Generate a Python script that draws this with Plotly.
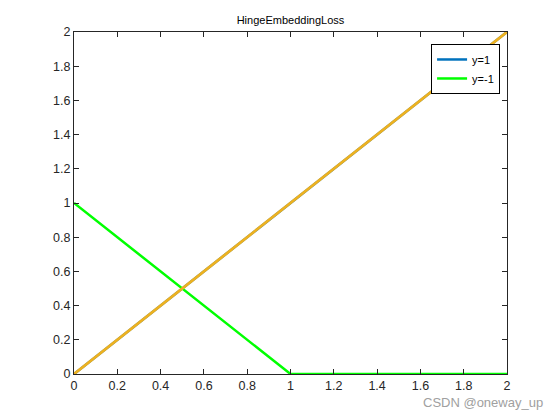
import plotly.graph_objects as go

x_vals = [0, 1, 2]
loss_pos = [0, 1, 2]        # y=1
loss_neg = [1, 0, 0]        # y=-1
loss_extra = [0, 1, 2]      # overlaid orange line
tick_vals = [0, 0.2, 0.4, 0.6, 0.8, 1, 1.2, 1.4, 1.6, 1.8, 2]
tick_text = ["0", "0.2", "0.4", "0.6", "0.8", "1", "1.2", "1.4", "1.6", "1.8", "2"]

fig = go.Figure()
fig.add_trace(go.Scatter(x=x_vals, y=loss_pos, mode="lines", name="y=1",
                         line=dict(color="#0072BD", width=2.5)))
fig.add_trace(go.Scatter(x=x_vals, y=loss_neg, mode="lines", name="y=-1",
                         line=dict(color="#00FF00", width=2.5)))
fig.add_trace(go.Scatter(x=x_vals, y=loss_extra, mode="lines", showlegend=False,
                         line=dict(color="#EDB120", width=2.8)))

axis_common = dict(
    tickmode="array", tickvals=tick_vals, ticktext=tick_text,
    ticks="inside", ticklen=5, tickcolor="#262626", tickwidth=1,
    showline=True, linecolor="#262626", linewidth=1, mirror="allticks",
    showgrid=False, zeroline=False, range=[0, 2],
    tickfont=dict(family="Liberation Sans, Arial, sans-serif", size=12.5, color="#262626"),
)
fig.update_xaxes(**axis_common)
fig.update_yaxes(**axis_common)

# page body has an 8px margin; compensate so the plot box lands at 74..507 x 32..374
fig.update_layout(
    width=560, height=420,
    margin=dict(l=66, r=61, t=24, b=54),
    paper_bgcolor="white", plot_bgcolor="white",
    title=dict(text="HingeEmbeddingLoss", x=0.5, xref="paper", xanchor="center",
               y=1 - 12/420, yanchor="middle",
               font=dict(family="Liberation Sans, Arial, sans-serif", size=11, color="black")),
    legend=dict(x=0.984, y=0.965, xanchor="right", yanchor="top",
                bgcolor="white", bordercolor="black", borderwidth=1,
                font=dict(family="Liberation Sans, Arial, sans-serif", size=11, color="black"),
                tracegroupgap=0, itemwidth=30),
    showlegend=True,
)
fig.add_annotation(text="CSDN @oneway_up", xref="paper", yref="paper",
                   x=1.0 + 38/433, y=-(402-374)/342, xanchor="right", yanchor="middle",
                   showarrow=False,
                   font=dict(family="Liberation Sans, Arial, sans-serif", size=13, color="#a0a0a0"))

fig.write_html("out.html")
